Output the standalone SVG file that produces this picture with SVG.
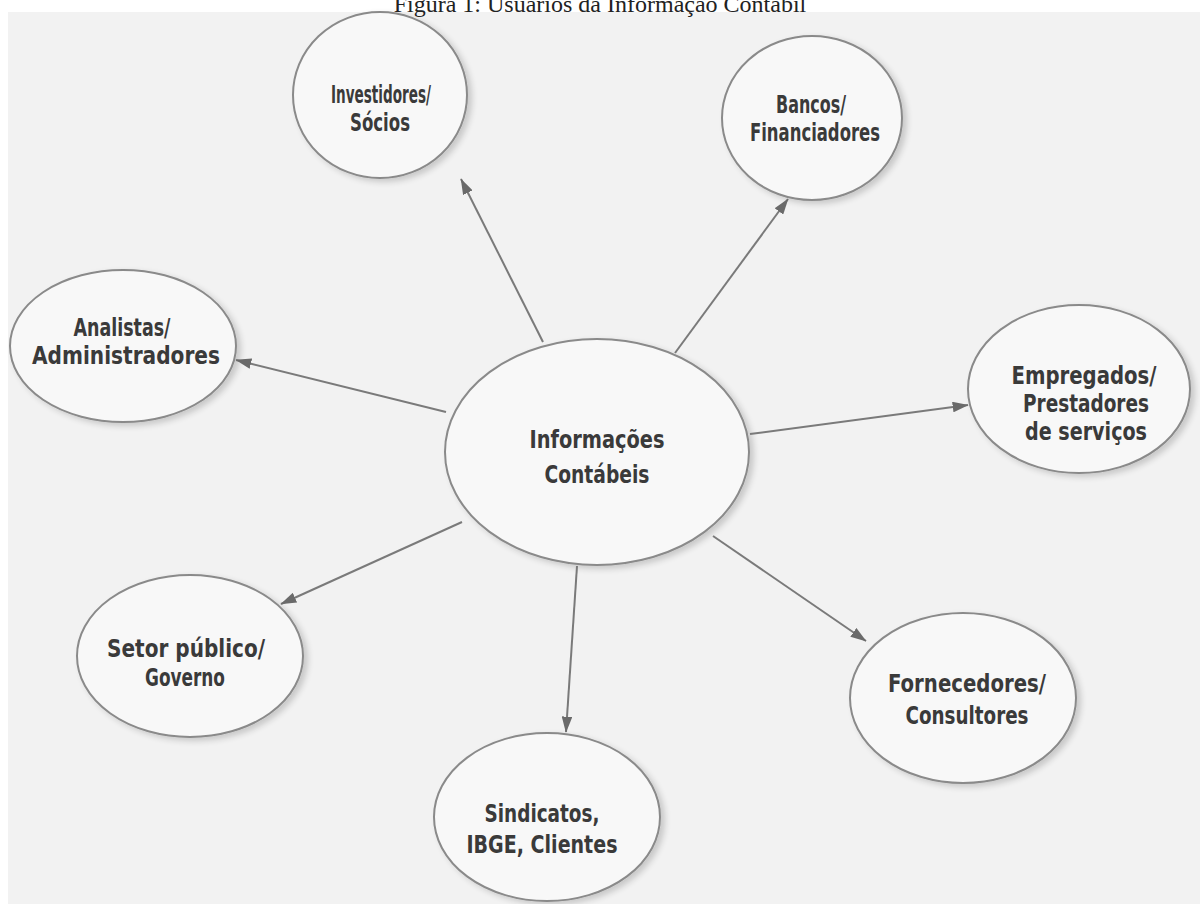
<svg xmlns="http://www.w3.org/2000/svg" width="1200" height="904" viewBox="0 0 1200 904">
<defs>
<marker id="ah" viewBox="0 0 12 8" refX="11.5" refY="4" markerWidth="8" markerHeight="5.5" orient="auto" markerUnits="strokeWidth">
<path d="M0,0 L12,4 L0,8 z" fill="#6a6a6a"/>
</marker>
<filter id="sh" x="-10%" y="-10%" width="125%" height="125%">
<feGaussianBlur in="SourceAlpha" stdDeviation="3"/>
<feOffset dx="4" dy="3" result="b"/>
<feComponentTransfer><feFuncA type="linear" slope="0.18"/></feComponentTransfer>
<feMerge><feMergeNode/><feMergeNode in="SourceGraphic"/></feMerge>
</filter>
</defs>
<style>
.node ellipse{fill:#f8f8f8;stroke:#8a8a8a;stroke-width:2;filter:url(#sh)}
.node text{font-family:"DejaVu Sans Condensed","DejaVu Sans",sans-serif;font-weight:bold;font-size:25px;fill:#3a3a3a;text-anchor:middle}
.conn line{stroke:#7a7a7a;stroke-width:2;marker-end:url(#ah)}
.title{font-family:"Liberation Serif",serif;font-size:24px;fill:#222;text-anchor:middle}
</style>
<rect width="1200" height="904" fill="#ffffff"/>
<rect x="8" y="12" width="1192" height="892" fill="#f2f2f2"/>
<text class="title" x="600" y="12">Figura 1: Usuários da Informação Contábil</text>
<g id="n-center" class="node">
<ellipse cx="597" cy="452" rx="152" ry="113"/>
<text x="597" y="448" textLength="135" lengthAdjust="spacingAndGlyphs">Informações</text>
<text x="597" y="483" textLength="105" lengthAdjust="spacingAndGlyphs">Contábeis</text>
</g>
<g id="n-investidores" class="node">
<ellipse cx="380" cy="95" rx="87" ry="83"/>
<text x="381" y="103" textLength="100" lengthAdjust="spacingAndGlyphs">Investidores/</text>
<text x="380" y="131" textLength="60" lengthAdjust="spacingAndGlyphs">Sócios</text>
</g>
<g id="n-bancos" class="node">
<ellipse cx="812" cy="118" rx="90" ry="82"/>
<text x="811" y="113" textLength="70" lengthAdjust="spacingAndGlyphs">Bancos/</text>
<text x="815" y="141" textLength="130" lengthAdjust="spacingAndGlyphs">Financiadores</text>
</g>
<g id="n-analistas" class="node">
<ellipse cx="123" cy="346" rx="113" ry="76"/>
<text x="122" y="336" textLength="97" lengthAdjust="spacingAndGlyphs">Analistas/</text>
<text x="126" y="364" textLength="188" lengthAdjust="spacingAndGlyphs">Administradores</text>
</g>
<g id="n-empregados" class="node">
<ellipse cx="1079" cy="389" rx="111" ry="84"/>
<text x="1084" y="384" textLength="145" lengthAdjust="spacingAndGlyphs">Empregados/</text>
<text x="1086" y="412" textLength="126" lengthAdjust="spacingAndGlyphs">Prestadores</text>
<text x="1086" y="440" textLength="122" lengthAdjust="spacingAndGlyphs">de serviços</text>
</g>
<g id="n-setor" class="node">
<ellipse cx="190" cy="656" rx="113" ry="81"/>
<text x="186" y="657" textLength="158" lengthAdjust="spacingAndGlyphs">Setor público/</text>
<text x="185" y="686" textLength="80" lengthAdjust="spacingAndGlyphs">Governo</text>
</g>
<g id="n-sindicatos" class="node">
<ellipse cx="547" cy="817" rx="113" ry="84"/>
<text x="542" y="822" textLength="115" lengthAdjust="spacingAndGlyphs">Sindicatos,</text>
<text x="542" y="853" textLength="151" lengthAdjust="spacingAndGlyphs">IBGE, Clientes</text>
</g>
<g id="n-fornecedores" class="node">
<ellipse cx="963" cy="698" rx="113" ry="85"/>
<text x="967" y="692" textLength="158" lengthAdjust="spacingAndGlyphs">Fornecedores/</text>
<text x="967" y="724" textLength="123" lengthAdjust="spacingAndGlyphs">Consultores</text>
</g>
<g id="connectors" class="conn">
<line x1="543" y1="342" x2="461" y2="179"/>
<line x1="675" y1="353" x2="788" y2="199"/>
<line x1="446" y1="412" x2="236" y2="360"/>
<line x1="750" y1="434" x2="968" y2="405"/>
<line x1="462" y1="522" x2="281" y2="604"/>
<line x1="577" y1="566" x2="566" y2="732"/>
<line x1="713" y1="536" x2="866" y2="641"/>
</g>
</svg>
